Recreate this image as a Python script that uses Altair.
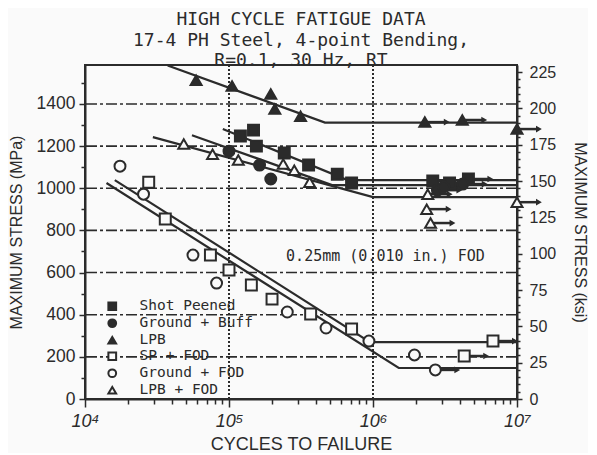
import altair as alt
import pandas as pd

# ---------------- data ----------------
series_names = ["Shot Peened", "Ground + Buff", "LPB", "SP + FOD", "Ground + FOD", "LPB + FOD"]

sp_cycles = [1.2e5, 1.48e5, 1.55e5, 2.42e5, 3.57e5, 5.65e5, 7.1e5, 2.6e6, 3.4e6, 4.6e6]
sp_stress = [1248, 1276, 1200, 1167, 1110, 1067, 1025, 1035, 1025, 1044]
sp_runout = [0, 0, 0, 0, 0, 0, 0, 1, 1, 1]

gb_cycles = [1.0e5, 1.63e5, 1.95e5, 2.8e6, 3.1e6, 4.2e6]
gb_stress = [1176, 1110, 1044, 991, 1006, 1020]
gb_runout = [0, 0, 0, 1, 1, 1]

lpb_cycles = [5.91e4, 1.05e5, 1.95e5, 2.08e5, 3.14e5, 2.29e6, 4.17e6, 1.0e7]
lpb_stress = [1513, 1485, 1447, 1376, 1342, 1314, 1324, 1281]
lpb_runout = [0, 0, 0, 0, 0, 1, 1, 1]

spf_cycles = [2.77e4, 3.61e4, 7.43e4, 1.0e5, 1.43e5, 1.99e5, 3.69e5, 7.1e5, 4.3e6, 6.81e6]
spf_stress = [1029, 854, 683, 612, 541, 474, 403, 332, 204, 275]
spf_runout = [0, 0, 0, 0, 0, 0, 0, 0, 1, 1]

gf_cycles = [1.75e4, 2.55e4, 5.62e4, 8.2e4, 2.54e5, 4.72e5, 9.37e5, 1.94e6, 2.71e6]
gf_stress = [1105, 972, 683, 550, 413, 337, 275, 209, 138]
gf_runout = [0, 0, 0, 0, 0, 0, 0, 0, 1]

lpbf_cycles = [4.85e4, 7.69e4, 1.16e5, 2.38e5, 2.84e5, 3.63e5, 2.4e6, 2.36e6, 2.51e6, 1.0e7]
lpbf_stress = [1210, 1162, 1134, 1115, 1086, 1029, 972, 901, 835, 934]
lpbf_runout = [0, 0, 0, 0, 0, 0, 1, 1, 1, 1]

# fitted S-N curves (knee lines)
fit_names = ["LPB", "Shot Peened", "Ground + Buff", "LPB + FOD", "SP + FOD", "Ground + FOD"]
fit_cycles = [
    [3.75e4, 4.64e5, 1.0e7],
    [9.06e4, 6.65e5, 1.0e7],
    [5.53e4, 5.2e5, 1.0e7],
    [2.96e4, 1.0e6, 1.0e7],
    [1.61e4, 9.53e5, 1.0e7],
    [1.41e4, 1.51e6, 1.0e7],
]
fit_stress = [
    [1583, 1312, 1312],
    [1281, 1039, 1039],
    [1252, 1015, 1015],
    [1243, 958, 958],
    [1039, 270, 270],
    [1025, 147, 147],
]

grid_mpa = [200, 400, 600, 800, 1000, 1200, 1400]
grid_cycles = [1e5, 1e6]
x_ticks = [m * 10 ** e for e in (4, 5, 6) for m in range(1, 10)] + [10 ** 7]
y_ticks = list(range(0, 1600, 100))
ksi_ticks = list(range(0, 230, 5))
MPA_PER_KSI = 6.895
Y_TOP_MPA = 1585

annot_text = ["0.25mm (0.010 in.) FOD"]
annot_cycles = [1.22e6]
annot_stress = [678]

# ---------------- tables ----------------
rows = []
for name, cs, ss, rs in zip(
    series_names,
    [sp_cycles, gb_cycles, lpb_cycles, spf_cycles, gf_cycles, lpbf_cycles],
    [sp_stress, gb_stress, lpb_stress, spf_stress, gf_stress, lpbf_stress],
    [sp_runout, gb_runout, lpb_runout, spf_runout, gf_runout, lpbf_runout],
):
    for c, s, r in zip(cs, ss, rs):
        rows.append({"series": name, "cycles": c, "stress": s, "runout": r})
pts = pd.DataFrame(rows)
runs = pts[pts.runout == 1].copy()
runs["cycles2"] = runs["cycles"] * 1.42

fit_rows = []
for name, cs, ss in zip(fit_names, fit_cycles, fit_stress):
    for c, s in zip(cs, ss):
        fit_rows.append({"line": name, "cycles": c, "stress": s})
fits = pd.DataFrame(fit_rows)

INK = "#2b2b2b"
BG = "#fafafa"
SANS = "Liberation Sans"
MONO = "DejaVu Sans Mono"

xscale = alt.Scale(type="log", domain=[1e4, 1e7], nice=False)
yscale = alt.Scale(domain=[0, Y_TOP_MPA], nice=False, zero=False)

xlabel = ("datum.value == 10000 ? '10\u2074' : datum.value == 100000 ? '10\u2075' : "
          "datum.value == 1000000 ? '10\u2076' : datum.value == 10000000 ? '10\u2077' : ''")
xaxis = alt.Axis(
    values=x_ticks, labelExpr=xlabel, title="CYCLES TO FAILURE",
    tickSize={"condition": {"test": "datum.value == 10000 || datum.value == 100000 || datum.value == 1000000 || datum.value == 10000000", "value": 8}, "value": 5},
    labelFont=SANS, labelFontSize=18, labelFontStyle="italic", labelPadding=5,
    labelFlush=False, labelOverlap=False,
    titleFont=SANS, titleFontSize=18, titleFontWeight="normal", titlePadding=5,
)
yaxis = alt.Axis(
    values=y_ticks, labelExpr="datum.value % 200 == 0 ? datum.value : ''",
    title="MAXIMUM STRESS (MPa)",
    tickSize={"condition": {"test": "datum.value % 200 == 0", "value": 6}, "value": 4},
    labelFont=SANS, labelFontSize=17.5, labelPadding=4, labelOverlap=False,
    titleFont=SANS, titleFontSize=16, titleFontWeight="normal", titlePadding=12,
)
X = alt.X("cycles:Q", scale=xscale, axis=xaxis)
Y = alt.Y("stress:Q", scale=yscale, axis=yaxis)

hgrid = alt.Chart(pd.DataFrame({"stress": grid_mpa})).mark_rule(
    color=INK, strokeWidth=1.6, strokeDash=[11, 3, 3, 3]
).encode(y=Y)

vgrid = alt.Chart(pd.DataFrame({"cycles": grid_cycles})).mark_rule(
    color=INK, strokeWidth=2, strokeDash=[2, 2]
).encode(x=X)

lines = alt.Chart(fits).mark_line(color=INK, strokeWidth=2.2).encode(
    x=X, y=Y, detail="line:N"
)

shafts = alt.Chart(runs).mark_rule(color=INK, strokeWidth=2.5).encode(
    x=X, x2="cycles2:Q", y=Y
)
heads = alt.Chart(runs).mark_point(
    shape="triangle-right", filled=True, color=INK, size=45, opacity=1
).encode(x=alt.X("cycles2:Q", scale=xscale, axis=xaxis), y=Y)

legend = alt.Legend(
    orient="none", legendX=20, legendY=234, title=None,
    labelFont=MONO, labelFontSize=14.5, labelColor=INK, labelOffset=20,
    symbolSize=60, symbolStrokeWidth=2,
    rowPadding=0, padding=0, labelLimit=300,
)
shape_scale = alt.Scale(domain=series_names,
                        range=["square", "circle", "triangle-up", "square", "circle", "triangle-up"])
fill_scale = alt.Scale(domain=series_names, range=[INK, INK, INK, BG, BG, BG])
stroke_scale = alt.Scale(domain=series_names, range=[INK] * 6)

points = alt.Chart(pts).mark_point(
    strokeWidth=2, size=120, opacity=1
).encode(
    x=X, y=Y,
    shape=alt.Shape("series:N", sort=series_names, legend=legend, scale=shape_scale),
    fill=alt.Fill("series:N", sort=series_names, legend=legend, scale=fill_scale),
    stroke=alt.Stroke("series:N", sort=series_names, legend=legend, scale=stroke_scale),
)

annot = alt.Chart(pd.DataFrame({"cycles": annot_cycles, "stress": annot_stress, "t": annot_text})).mark_text(
    font=MONO, fontSize=15, color=INK
).encode(x=X, y=Y, text="t:N")

mpa = alt.layer(hgrid, vgrid, lines, shafts, heads, points, annot)

ksi_axis = alt.Axis(
    orient="right", values=ksi_ticks,
    labelExpr="datum.value % 25 == 0 ? datum.value : ''",
    title="MAXIMUM STRESS (ksi)",
    tickSize={"condition": {"test": "datum.value % 25 == 0", "value": 5}, "value": 3},
    labelFont=SANS, labelFontSize=16, labelPadding=7, labelOverlap=False,
    titleFont=SANS, titleFontSize=16, titleFontWeight="normal", titlePadding=16,
    titleAngle=90,
)
ksi = alt.Chart(pd.DataFrame({"ksi": ksi_ticks})).mark_point(opacity=0).encode(
    y=alt.Y("ksi:Q", scale=alt.Scale(domain=[0, Y_TOP_MPA / MPA_PER_KSI], nice=False), axis=ksi_axis)
)

chart = alt.layer(mpa, ksi).resolve_scale(y="independent").properties(
    width=432, height=334,
    padding={"left": 0, "top": 3, "right": 0, "bottom": 0},
    background=BG,
    title=alt.TitleParams(
        text=["HIGH CYCLE FATIGUE DATA", "17-4 PH Steel, 4-point Bending,", "R=0.1, 30 Hz, RT"],
        font=MONO, fontSize=18, fontWeight="normal", lineHeight=20.5, color=INK,
        anchor="middle", offset=-9,
    ),
).configure_axis(
    domainColor=INK, domainWidth=2, tickColor=INK, tickWidth=1.5,
    labelColor=INK, titleColor=INK, grid=False,
).configure_view(stroke=INK, strokeWidth=2)

chart.save("out.html", embed_options={"renderer": "svg", "actions": False})
